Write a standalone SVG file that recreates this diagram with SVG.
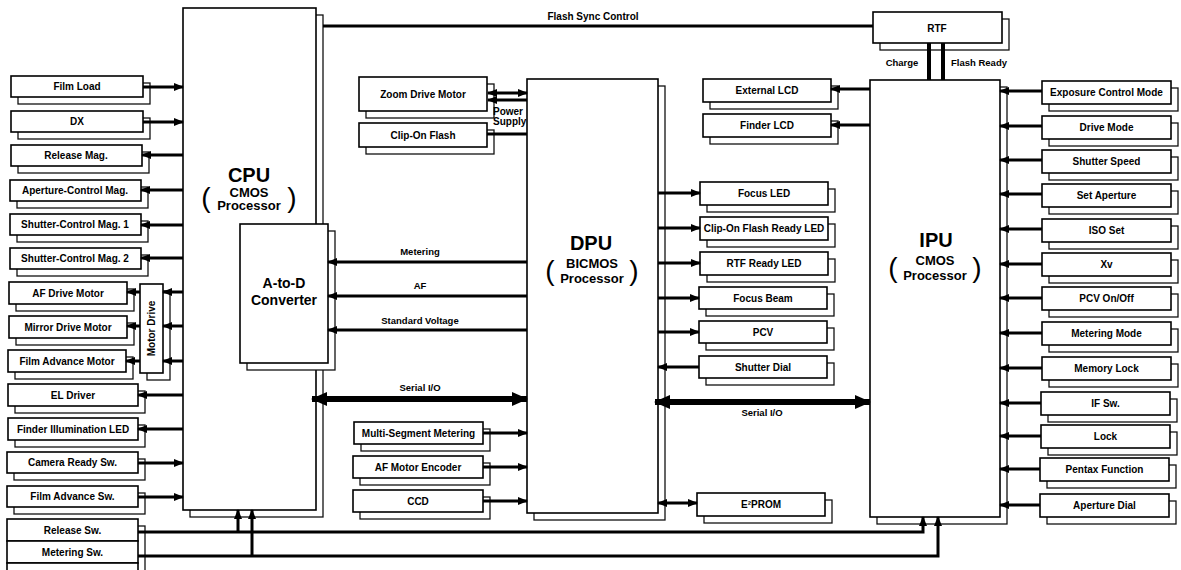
<svg xmlns="http://www.w3.org/2000/svg" width="1181" height="570" viewBox="0 0 1181 570">
<defs>
<style>
.box{fill:#fff;stroke:#000;stroke-width:1.6}
.sh{fill:#fff;stroke:#111;stroke-width:1.3}
.t{font-family:"Liberation Sans",Arial,Helvetica,sans-serif;font-weight:bold;font-size:10px;text-anchor:middle;fill:#000}
.lb{font-family:"Liberation Sans",Arial,Helvetica,sans-serif;font-weight:bold;font-size:9.5px;text-anchor:middle;fill:#000}
.big{font-family:"Liberation Sans",Arial,Helvetica,sans-serif;font-weight:bold;font-size:20px;text-anchor:middle;fill:#000}
.mid{font-family:"Liberation Sans",Arial,Helvetica,sans-serif;font-weight:bold;font-size:13px;text-anchor:middle;fill:#000}
.mid2{font-family:"Liberation Sans",Arial,Helvetica,sans-serif;font-weight:bold;font-size:14px;text-anchor:middle;fill:#000}
.par{font-family:"Liberation Sans",Arial,Helvetica,sans-serif;font-size:28px;text-anchor:middle;fill:#000}
.c{stroke:#000;stroke-width:3;fill:none}
.ca{stroke:#000;stroke-width:3;fill:none;marker-end:url(#a)}
.cb{stroke:#000;stroke-width:3;fill:none;marker-end:url(#a);marker-start:url(#a)}
.bus{stroke:#000;stroke-width:6;fill:none;marker-end:url(#b);marker-start:url(#b)}
</style>
<marker id="a" markerUnits="userSpaceOnUse" markerWidth="10" markerHeight="8" refX="9" refY="4" orient="auto-start-reverse"><path d="M0,0 L10,4 L0,8 z" fill="#000"/></marker>
<marker id="b" markerUnits="userSpaceOnUse" markerWidth="16" markerHeight="14" refX="15" refY="7" orient="auto-start-reverse"><path d="M0,0 L16,7 L0,14 z" fill="#000"/></marker>
</defs>
<rect width="1181" height="570" fill="#fff"/>

<!-- Left column -->
<g id="film-load"><rect class="sh" x="18" y="83" width="132" height="21"/><rect class="box" x="11" y="76" width="132" height="21"/><text class="t" x="77" y="90">Film Load</text></g>
<g id="dx"><rect class="sh" x="18" y="118" width="132" height="21"/><rect class="box" x="11" y="111" width="132" height="21"/><text class="t" x="77" y="125">DX</text></g>
<g id="release-mag"><rect class="sh" x="18" y="152" width="131" height="21"/><rect class="box" x="11" y="145" width="131" height="21"/><text class="t" x="76" y="159">Release Mag.</text></g>
<g id="aperture-control-mag"><rect class="sh" x="17" y="187" width="131" height="21"/><rect class="box" x="10" y="180" width="131" height="21"/><text class="t" x="75" y="194">Aperture-Control Mag.</text></g>
<g id="shutter-control-mag-1"><rect class="sh" x="17" y="221" width="131" height="21"/><rect class="box" x="10" y="214" width="131" height="21"/><text class="t" x="75" y="228">Shutter-Control Mag. 1</text></g>
<g id="shutter-control-mag-2"><rect class="sh" x="17" y="255" width="131" height="21"/><rect class="box" x="10" y="248" width="131" height="21"/><text class="t" x="75" y="262">Shutter-Control Mag. 2</text></g>
<g id="af-drive-motor"><rect class="sh" x="16" y="289" width="118" height="22"/><rect class="box" x="9" y="282" width="118" height="22"/><text class="t" x="68" y="296.5">AF Drive Motor</text></g>
<g id="mirror-drive-motor"><rect class="sh" x="16" y="323" width="118" height="22"/><rect class="box" x="9" y="316" width="118" height="22"/><text class="t" x="68" y="330.5">Mirror Drive Motor</text></g>
<g id="film-advance-motor"><rect class="sh" x="15" y="357" width="118" height="22"/><rect class="box" x="8" y="350" width="118" height="22"/><text class="t" x="67" y="364.5">Film Advance Motor</text></g>
<g id="motor-drive"><rect class="sh" x="147" y="291" width="23" height="89"/><rect class="box" x="140" y="284" width="23" height="89"/><text class="t" transform="translate(155,328.5) rotate(-90)" x="0" y="0">Motor Drive</text></g>
<g id="el-driver"><rect class="sh" x="15" y="391" width="130" height="22"/><rect class="box" x="8" y="384" width="130" height="22"/><text class="t" x="73" y="398.5">EL Driver</text></g>
<g id="finder-illumination-led"><rect class="sh" x="15" y="425" width="130" height="22"/><rect class="box" x="8" y="418" width="130" height="22"/><text class="t" x="73" y="432.5">Finder Illumination LED</text></g>
<g id="camera-ready-sw"><rect class="sh" x="14" y="459" width="131" height="21"/><rect class="box" x="7" y="452" width="131" height="21"/><text class="t" x="72.5" y="466">Camera Ready Sw.</text></g>
<g id="film-advance-sw"><rect class="sh" x="14" y="493" width="131" height="21"/><rect class="box" x="7" y="486" width="131" height="21"/><text class="t" x="72.5" y="500">Film Advance Sw.</text></g>
<g id="switch-stack"><rect class="sh" x="14" y="526" width="131" height="70"/>
<g id="release-sw"><rect class="box" x="7" y="519" width="131" height="22"/><text class="t" x="72.5" y="533.5">Release Sw.</text></g>
<g id="metering-sw"><rect class="box" x="7" y="541" width="131" height="22"/><text class="t" x="72.5" y="555.5">Metering Sw.</text></g>
<g id="lower-sw"><rect class="box" x="7" y="563" width="131" height="22"/></g>
</g>

<!-- CPU -->
<g id="cpu"><rect class="sh" x="190" y="15" width="133" height="502"/><rect class="box" x="183" y="8" width="133" height="502"/>
<text class="big" x="249" y="182">CPU</text><text class="mid" x="249" y="197">CMOS</text><text class="mid" x="249" y="210">Processor</text>
<text class="par" x="206" y="207">(</text><text class="par" x="292" y="207">)</text></g>
<g id="a-to-d"><rect class="sh" x="247" y="231" width="88" height="139"/><rect class="box" x="240" y="224" width="88" height="139"/>
<text class="mid2" x="284" y="288">A-to-D</text><text class="mid2" x="284" y="305">Converter</text></g>

<!-- DPU side -->
<g id="zoom-drive-motor"><rect class="sh" x="366" y="84" width="128" height="34"/><rect class="box" x="359" y="77" width="128" height="34"/><text class="t" x="423" y="97.5">Zoom Drive Motor</text></g>
<g id="clip-on-flash"><rect class="sh" x="366" y="130" width="128" height="24"/><rect class="box" x="359" y="123" width="128" height="24"/><text class="t" x="423" y="138.5">Clip-On Flash</text></g>
<g id="multi-segment-metering"><rect class="sh" x="361" y="429" width="129" height="22"/><rect class="box" x="354" y="422" width="129" height="22"/><text class="t" x="418.5" y="436.5">Multi-Segment Metering</text></g>
<g id="af-motor-encoder"><rect class="sh" x="360" y="463" width="130" height="22"/><rect class="box" x="353" y="456" width="130" height="22"/><text class="t" x="418" y="470.5">AF Motor Encoder</text></g>
<g id="ccd"><rect class="sh" x="360" y="497" width="130" height="22"/><rect class="box" x="353" y="490" width="130" height="22"/><text class="t" x="418" y="504.5">CCD</text></g>

<g id="dpu"><rect class="sh" x="534" y="86" width="131" height="434"/><rect class="box" x="527" y="79" width="131" height="434"/>
<text class="big" x="591" y="250">DPU</text><text class="mid" x="592" y="268">BICMOS</text><text class="mid" x="592" y="283">Processor</text>
<text class="par" x="550" y="280">(</text><text class="par" x="634" y="280">)</text></g>

<g id="focus-led"><rect class="sh" x="707" y="189" width="128" height="23"/><rect class="box" x="700" y="182" width="128" height="23"/><text class="t" x="764" y="197">Focus LED</text></g>
<g id="clip-on-flash-ready-led"><rect class="sh" x="707" y="224" width="128" height="23"/><rect class="box" x="700" y="217" width="128" height="23"/><text class="t" x="764" y="232">Clip-On Flash Ready LED</text></g>
<g id="rtf-ready-led"><rect class="sh" x="707" y="259" width="128" height="23"/><rect class="box" x="700" y="252" width="128" height="23"/><text class="t" x="764" y="267">RTF Ready LED</text></g>
<g id="focus-beam"><rect class="sh" x="706" y="294" width="128" height="22"/><rect class="box" x="699" y="287" width="128" height="22"/><text class="t" x="763" y="301.5">Focus Beam</text></g>
<g id="pcv"><rect class="sh" x="706" y="328" width="128" height="22"/><rect class="box" x="699" y="321" width="128" height="22"/><text class="t" x="763" y="335.5">PCV</text></g>
<g id="shutter-dial"><rect class="sh" x="706" y="363" width="128" height="22"/><rect class="box" x="699" y="356" width="128" height="22"/><text class="t" x="763" y="370.5">Shutter Dial</text></g>
<g id="e2prom"><rect class="sh" x="704" y="500" width="128" height="23"/><rect class="box" x="697" y="493" width="128" height="23"/><text class="t" x="761" y="508">E²PROM</text></g>
<g id="external-lcd"><rect class="sh" x="710" y="86" width="128" height="23"/><rect class="box" x="703" y="79" width="128" height="23"/><text class="t" x="767" y="94">External LCD</text></g>
<g id="finder-lcd"><rect class="sh" x="710" y="121" width="128" height="23"/><rect class="box" x="703" y="114" width="128" height="23"/><text class="t" x="767" y="129">Finder LCD</text></g>

<!-- IPU side -->
<g id="rtf"><rect class="sh" x="880" y="19" width="129" height="31"/><rect class="box" x="873" y="12" width="129" height="31"/><text class="t" x="937" y="31.5">RTF</text></g>
<g id="ipu"><rect class="sh" x="877" y="87" width="130" height="437"/><rect class="box" x="870" y="80" width="130" height="437"/>
<text class="big" x="936" y="247">IPU</text><text class="mid" x="935" y="265">CMOS</text><text class="mid" x="935" y="280">Processor</text>
<text class="par" x="893" y="277">(</text><text class="par" x="977" y="277">)</text></g>

<g id="exposure-control-mode"><rect class="sh" x="1049" y="88" width="129" height="23"/><rect class="box" x="1042" y="81" width="129" height="23"/><text class="t" x="1106.5" y="96">Exposure Control Mode</text></g>
<g id="drive-mode"><rect class="sh" x="1049" y="123" width="129" height="23"/><rect class="box" x="1042" y="116" width="129" height="23"/><text class="t" x="1106.5" y="131">Drive Mode</text></g>
<g id="shutter-speed"><rect class="sh" x="1049" y="157" width="129" height="23"/><rect class="box" x="1042" y="150" width="129" height="23"/><text class="t" x="1106.5" y="165">Shutter Speed</text></g>
<g id="set-aperture"><rect class="sh" x="1049" y="191" width="129" height="23"/><rect class="box" x="1042" y="184" width="129" height="23"/><text class="t" x="1106.5" y="199">Set Aperture</text></g>
<g id="iso-set"><rect class="sh" x="1049" y="226" width="129" height="23"/><rect class="box" x="1042" y="219" width="129" height="23"/><text class="t" x="1106.5" y="234">ISO Set</text></g>
<g id="xv"><rect class="sh" x="1049" y="260" width="129" height="23"/><rect class="box" x="1042" y="253" width="129" height="23"/><text class="t" x="1106.5" y="268">Xv</text></g>
<g id="pcv-on-off"><rect class="sh" x="1049" y="294" width="129" height="23"/><rect class="box" x="1042" y="287" width="129" height="23"/><text class="t" x="1106.5" y="302">PCV On/Off</text></g>
<g id="metering-mode"><rect class="sh" x="1049" y="329" width="129" height="23"/><rect class="box" x="1042" y="322" width="129" height="23"/><text class="t" x="1106.5" y="337">Metering Mode</text></g>
<g id="memory-lock"><rect class="sh" x="1049" y="364" width="129" height="23"/><rect class="box" x="1042" y="357" width="129" height="23"/><text class="t" x="1106.5" y="372">Memory Lock</text></g>
<g id="if-sw"><rect class="sh" x="1048" y="399" width="129" height="23"/><rect class="box" x="1041" y="392" width="129" height="23"/><text class="t" x="1105.5" y="407">IF Sw.</text></g>
<g id="lock"><rect class="sh" x="1048" y="432" width="129" height="23"/><rect class="box" x="1041" y="425" width="129" height="23"/><text class="t" x="1105.5" y="440">Lock</text></g>
<g id="pentax-function"><rect class="sh" x="1047" y="465" width="129" height="23"/><rect class="box" x="1040" y="458" width="129" height="23"/><text class="t" x="1104.5" y="473">Pentax Function</text></g>
<g id="aperture-dial"><rect class="sh" x="1047" y="501" width="129" height="23"/><rect class="box" x="1040" y="494" width="129" height="23"/><text class="t" x="1104.5" y="509">Aperture Dial</text></g>

<!-- Connectors -->
<g id="connectors">
<path class="ca" d="M143,87 H183"/>
<path class="ca" d="M143,122 H183"/>
<path class="ca" d="M183,155 H142"/>
<path class="ca" d="M183,190 H141"/>
<path class="ca" d="M183,225 H141"/>
<path class="ca" d="M183,258 H141"/>
<path class="ca" d="M183,292 H163"/>
<path class="ca" d="M183,326 H163"/>
<path class="ca" d="M183,361 H163"/>
<path class="ca" d="M140,292 H127"/>
<path class="ca" d="M140,326 H127"/>
<path class="ca" d="M140,361 H126"/>
<path class="ca" d="M183,395 H138"/>
<path class="ca" d="M183,429 H138"/>
<path class="ca" d="M138,463 H183"/>
<path class="ca" d="M138,497 H183"/>
<path class="ca" d="M138,532 H923 V517"/>
<path class="ca" d="M238,532 V510"/>
<path class="ca" d="M138,556 H938 V517"/>
<path class="ca" d="M252,556 V510"/>

<path class="c" d="M323,26 H873"/>
<text class="t" x="593" y="20">Flash Sync Control</text>
<path class="c" style="stroke-width:4" d="M929,43 V80"/>
<path class="c" style="stroke-width:4" d="M943,43 V80"/>
<text class="lb" x="902" y="66">Charge</text>
<text class="lb" x="979" y="66">Flash Ready</text>

<path class="cb" d="M488,93 H527"/>
<path class="ca" d="M527,100 H488"/>
<path class="c" d="M487,134 H527"/>
<text class="t" x="493" y="115" style="text-anchor:start">Power</text>
<text class="t" x="493" y="125" style="text-anchor:start">Supply</text>

<path class="ca" d="M527,262 H328"/>
<text class="lb" x="420" y="255">Metering</text>
<path class="ca" d="M527,296 H328"/>
<text class="lb" x="420" y="289">AF</text>
<path class="ca" d="M527,330 H328"/>
<text class="lb" x="420" y="324">Standard Voltage</text>
<path class="bus" d="M312,399 H527"/>
<text class="lb" x="420" y="391">Serial I/O</text>

<path class="ca" d="M483,433 H527"/>
<path class="ca" d="M483,467 H527"/>
<path class="ca" d="M483,501 H527"/>

<path class="ca" d="M658,193 H700"/>
<path class="ca" d="M658,228 H700"/>
<path class="ca" d="M658,263 H700"/>
<path class="ca" d="M658,298 H699"/>
<path class="ca" d="M658,332 H699"/>
<path class="ca" d="M699,367 H658"/>
<path class="bus" d="M655,402 H870"/>
<text class="lb" x="762" y="416">Serial I/O</text>
<path class="cb" d="M658,503 H697"/>

<path class="ca" d="M870,89 H831"/>
<path class="ca" d="M870,125 H831"/>

<path class="ca" d="M1042,91 H1000"/>
<path class="ca" d="M1042,126 H1000"/>
<path class="ca" d="M1042,160 H1000"/>
<path class="ca" d="M1042,194 H1000"/>
<path class="ca" d="M1042,229 H1000"/>
<path class="ca" d="M1042,264 H1000"/>
<path class="ca" d="M1042,298 H1000"/>
<path class="ca" d="M1042,333 H1000"/>
<path class="ca" d="M1042,368 H1000"/>
<path class="ca" d="M1041,403 H1000"/>
<path class="ca" d="M1041,436 H1000"/>
<path class="ca" d="M1040,469 H1000"/>
<path class="ca" d="M1040,505 H1000"/>
</g>
</svg>
